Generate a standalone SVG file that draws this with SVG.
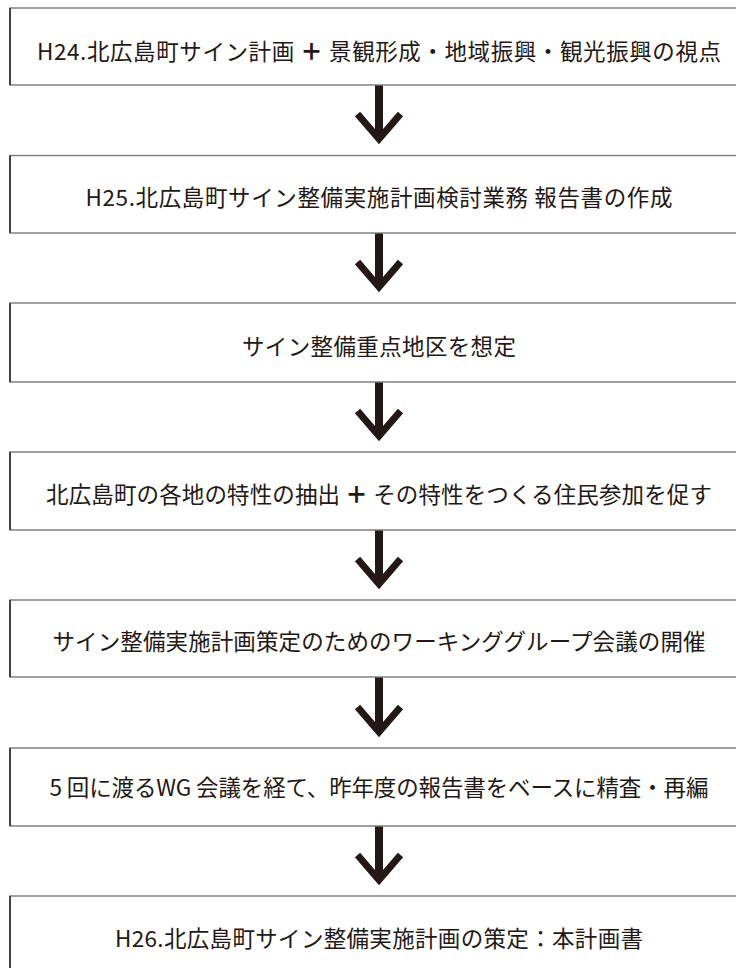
<svg xmlns="http://www.w3.org/2000/svg" width="736" height="968" viewBox="0 0 736 968">
<style>
.box{fill:#fff;stroke:#7a7a7a;stroke-width:1.4}
.edge{stroke:#231815;stroke-width:1.4}
.t{font-family:"Noto Sans CJK JP","Noto Sans",sans-serif;font-size:22.5px;fill:#231815;text-anchor:middle;dominant-baseline:central}
.plus{font-weight:900;fill:#231815}
.shaft{stroke:#231815;stroke-width:8;fill:none}
.head{stroke:#231815;stroke-width:7;fill:none;stroke-linejoin:miter;stroke-miterlimit:10}
</style>
<rect width="736" height="968" fill="#fff"/>
<g id="connectors">
<g id="a1"><line class="shaft" x1="379" y1="85" x2="379" y2="138"/><polyline class="head" points="357.5,114 379,139 400.5,114"/></g>
<g id="a2"><line class="shaft" x1="379" y1="233" x2="379" y2="286"/><polyline class="head" points="357.5,262 379,287 400.5,262"/></g>
<g id="a3"><line class="shaft" x1="379" y1="382" x2="379" y2="435"/><polyline class="head" points="357.5,411 379,436 400.5,411"/></g>
<g id="a4"><line class="shaft" x1="379" y1="530" x2="379" y2="583"/><polyline class="head" points="357.5,559 379,584 400.5,559"/></g>
<g id="a5"><line class="shaft" x1="379" y1="677" x2="379" y2="731"/><polyline class="head" points="357.5,707 379,732 400.5,707"/></g>
<g id="a6"><line class="shaft" x1="379" y1="826" x2="379" y2="879"/><polyline class="head" points="357.5,855 379,880 400.5,855"/></g>
</g>
<g id="n1"><rect class="box" x="10" y="8" width="738" height="77"/><line class="edge" x1="10" y1="8" x2="10" y2="85"/>
<text class="t" x="379" y="50" textLength="684" lengthAdjust="spacing">H24.北広島町サイン計画 <tspan class="plus">＋</tspan> 景観形成・地域振興・観光振興の視点</text></g>
<g id="n2"><rect class="box" x="10" y="155.5" width="738" height="77.5"/><line class="edge" x1="10" y1="155.5" x2="10" y2="233"/>
<text class="t" x="379" y="196" textLength="587" lengthAdjust="spacing">H25.北広島町サイン整備実施計画検討業務 報告書の作成</text></g>
<g id="n3"><rect class="box" x="10" y="303" width="738" height="79"/><line class="edge" x1="10" y1="303" x2="10" y2="382"/>
<text class="t" x="379" y="344.5" textLength="274" lengthAdjust="spacing">サイン整備重点地区を想定</text></g>
<g id="n4"><rect class="box" x="10" y="452" width="738" height="78"/><line class="edge" x1="10" y1="452" x2="10" y2="530"/>
<text class="t" x="379" y="493" textLength="666" lengthAdjust="spacing">北広島町の各地の特性の抽出 <tspan class="plus">＋</tspan> その特性をつくる住民参加を促す</text></g>
<g id="n5"><rect class="box" x="10" y="600" width="738" height="77"/><line class="edge" x1="10" y1="600" x2="10" y2="677"/>
<text class="t" x="379" y="640" textLength="653" lengthAdjust="spacing">サイン整備実施計画策定のためのワーキンググループ会議の開催</text></g>
<g id="n6"><rect class="box" x="10" y="748" width="738" height="78"/><line class="edge" x1="10" y1="748" x2="10" y2="826"/>
<text class="t" x="379" y="786" textLength="659" lengthAdjust="spacing">5 回に渡るWG 会議を経て、昨年度の報告書をベースに精査・再編</text></g>
<g id="n7"><rect class="box" x="10" y="896" width="738" height="80"/><line class="edge" x1="10" y1="896" x2="10" y2="976"/>
<text class="t" x="379" y="937" textLength="528" lengthAdjust="spacing">H26.北広島町サイン整備実施計画の策定：本計画書</text></g>
</svg>
